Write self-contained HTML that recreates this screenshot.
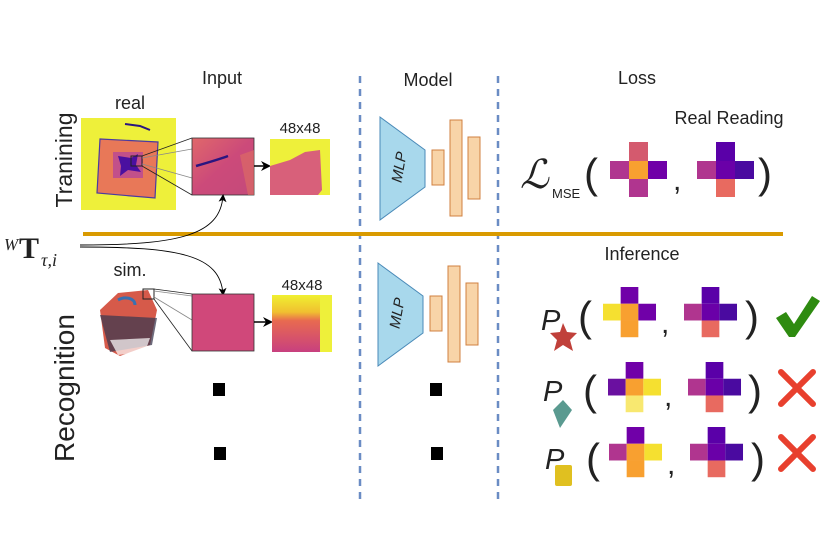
<!DOCTYPE html>
<html><head><meta charset="utf-8"><style>
html,body{margin:0;padding:0;background:#fff;}
svg{display:block;}
</style></head><body>
<svg width="831" height="559" viewBox="0 0 831 559" xmlns="http://www.w3.org/2000/svg" font-family="Liberation Sans, DejaVu Sans, sans-serif" fill="#222">
<defs>
<linearGradient id="g1" x1="0" y1="0" x2="1" y2="1"><stop offset="0" stop-color="#e0686a"/><stop offset="0.5" stop-color="#cc4a7a"/><stop offset="1" stop-color="#c44a7a"/></linearGradient>
<linearGradient id="g3" x1="0" y1="0" x2="0" y2="1"><stop offset="0" stop-color="#f0f030"/><stop offset="0.3" stop-color="#f0c030"/><stop offset="0.45" stop-color="#e86a50"/><stop offset="1" stop-color="#c8407f"/></linearGradient>
<marker id="ah" markerWidth="10" markerHeight="10" refX="8" refY="5" orient="auto" markerUnits="userSpaceOnUse"><path d="M0,0 L10,5 L0,10 L3,5 z" fill="#000"/></marker>
<marker id="ah2" markerWidth="8" markerHeight="8" refX="6" refY="4" orient="auto" markerUnits="userSpaceOnUse"><path d="M0,0 L8,4 L0,8 L2,4 z" fill="#000"/></marker>
</defs>

<text x="222" y="84" font-size="18" text-anchor="middle">Input</text>
<text x="428" y="86" font-size="18" text-anchor="middle">Model</text>
<text x="637" y="84" font-size="18" text-anchor="middle">Loss</text>

<line x1="360" y1="76" x2="360" y2="505" stroke="#6a8cc4" stroke-width="2.5" stroke-dasharray="7,6"/>
<line x1="498" y1="76" x2="498" y2="505" stroke="#6a8cc4" stroke-width="2.5" stroke-dasharray="7,6"/>

<line x1="83" y1="234" x2="783" y2="234" stroke="#d99a00" stroke-width="4"/>

<text transform="translate(72,160) rotate(-90)" font-size="23" text-anchor="middle">Tranining</text>
<text transform="translate(74,388) rotate(-90)" font-size="28" text-anchor="middle">Recognition</text>

<text x="130" y="109" font-size="18" text-anchor="middle">real</text>
<rect x="81" y="118" width="95" height="92" fill="#eef03a"/>
<path d="M100,139 L158,142 L155,198 L97,193 z" fill="#e87858" stroke="#4a3aa0" stroke-width="1.2"/>
<rect x="113" y="152" width="30" height="26" fill="#c2508a"/>
<path d="M118,156 L131,158 L138,154 L136,165 L141,172 L128,170 L120,176 L121,166 z" fill="#4a10a0"/>
<path d="M125,124 L140,126 L150,130" stroke="#2a1580" stroke-width="2" fill="none"/>
<rect x="131" y="156" width="11" height="10" fill="none" stroke="#222" stroke-width="1"/>
<line x1="142" y1="156" x2="192" y2="138" stroke="#222" stroke-width="0.8"/>
<line x1="142" y1="158" x2="192" y2="149" stroke="#888" stroke-width="0.8"/>
<line x1="142" y1="166" x2="192" y2="195" stroke="#222" stroke-width="0.8"/>
<line x1="142" y1="164" x2="192" y2="178" stroke="#888" stroke-width="0.8"/>
<rect x="192" y="138" width="62" height="57" fill="url(#g1)" stroke="#333" stroke-width="0.8"/>
<path d="M196,166 C210,162 220,159 228,156" stroke="#2a1580" stroke-width="2.5" fill="none"/>
<path d="M254,138 L254,150 L240,155 L248,195 L254,195 z" fill="#e07060" opacity="0.6"/>
<line x1="254" y1="166" x2="269" y2="166" stroke="#000" stroke-width="1.5" marker-end="url(#ah)"/>
<text x="300" y="133" font-size="15" text-anchor="middle">48x48</text>
<rect x="270" y="139" width="60" height="56" fill="#eef03a"/>
<path d="M270,166 L290,160 L305,152 L320,150 L322,190 L318,195 L270,195 z" fill="#d8607a"/>

<text x="4" y="250" style="font-family:'Liberation Serif',serif;font-size:17px;font-style:italic">W</text>
<text x="19" y="258" style="font-family:'Liberation Serif',serif;font-size:30px;font-weight:bold">T</text>
<text x="41" y="266" style="font-family:'Liberation Serif',serif;font-size:18px;font-style:italic">τ,i</text>
<path d="M80,245 C180,245 220,235 223,196" stroke="#000" stroke-width="0.9" fill="none" marker-end="url(#ah2)"/>
<path d="M80,247 C180,247 220,255 223,294" stroke="#000" stroke-width="0.9" fill="none" marker-end="url(#ah2)"/>

<text x="130" y="276" font-size="18" text-anchor="middle">sim.</text>
<path d="M100,310 L118,293 L148,290 L157,310 L150,345 L120,356 L105,348 z" fill="#d65a4a"/>
<path d="M100,315 L157,318 L152,345 L110,352 z" fill="#3e3a50" opacity="0.75"/>
<path d="M110,340 L150,338 L145,352 L118,355 z" fill="#fff" opacity="0.7"/>
<path d="M118,300 C125,296 135,298 135,305" stroke="#3a70b0" stroke-width="3" fill="none"/>
<rect x="143" y="289" width="11" height="10" fill="none" stroke="#222" stroke-width="1"/>
<line x1="154" y1="289" x2="192" y2="294" stroke="#222" stroke-width="0.8"/>
<line x1="154" y1="291" x2="192" y2="296" stroke="#888" stroke-width="0.8"/>
<line x1="154" y1="299" x2="192" y2="351" stroke="#222" stroke-width="0.8"/>
<line x1="154" y1="297" x2="192" y2="320" stroke="#888" stroke-width="0.8"/>
<rect x="192" y="294" width="62" height="57" fill="#d0487a" stroke="#333" stroke-width="0.8"/>
<line x1="254" y1="322" x2="271" y2="322" stroke="#000" stroke-width="1.5" marker-end="url(#ah)"/>
<text x="302" y="290" font-size="15" text-anchor="middle">48x48</text>
<rect x="272" y="295" width="60" height="57" fill="url(#g3)"/>
<rect x="320" y="295" width="12" height="57" fill="#eef03a"/>

<rect x="213" y="383" width="12" height="13" fill="#000"/>
<rect x="214" y="447" width="12" height="13" fill="#000"/>
<rect x="430" y="383" width="12" height="13" fill="#000"/>
<rect x="431" y="447" width="12" height="13" fill="#000"/>

<g>
<path d="M380,117 L425,150 L425,187 L380,220 z" fill="#a8d8ec" stroke="#4a8ab8" stroke-width="1"/>
<text transform="translate(404,168) rotate(-80)" font-size="15" font-style="italic" text-anchor="middle">MLP</text>
<rect x="432" y="150" width="12" height="35" fill="#f8d4a8" stroke="#d08040" stroke-width="1"/>
<rect x="450" y="120" width="12" height="96" fill="#f8d4a8" stroke="#d08040" stroke-width="1"/>
<rect x="468" y="137" width="12" height="62" fill="#f8d4a8" stroke="#d08040" stroke-width="1"/>
</g>
<g transform="translate(-2,146)">
<path d="M380,117 L425,150 L425,187 L380,220 z" fill="#a8d8ec" stroke="#4a8ab8" stroke-width="1"/>
<text transform="translate(404,168) rotate(-80)" font-size="15" font-style="italic" text-anchor="middle">MLP</text>
<rect x="432" y="150" width="12" height="35" fill="#f8d4a8" stroke="#d08040" stroke-width="1"/>
<rect x="450" y="120" width="12" height="96" fill="#f8d4a8" stroke="#d08040" stroke-width="1"/>
<rect x="468" y="137" width="12" height="62" fill="#f8d4a8" stroke="#d08040" stroke-width="1"/>
</g>

<text x="729" y="124" font-size="18" text-anchor="middle">Real Reading</text>
<text x="520" y="188" style="font-family:'DejaVu Serif',serif;font-size:40px;font-style:italic">ℒ</text>
<text x="552" y="198" font-size="13">MSE</text>
<text x="584" y="188" font-size="42">(</text>
<text x="673" y="190" font-size="30">,</text>
<text x="758" y="188" font-size="42">)</text>
<g transform="translate(610,142)">
<rect x="19" y="0" width="19" height="19" fill="#d45a6e"/>
<rect x="0" y="19" width="19" height="18" fill="#b0358f"/>
<rect x="19" y="19" width="19" height="18" fill="#f8a030"/>
<rect x="38" y="19" width="19" height="18" fill="#7000a8"/>
<rect x="19" y="37" width="19" height="18" fill="#b0358f"/>
</g>
<g transform="translate(697,142)">
<rect x="19" y="0" width="19" height="19" fill="#5a00a8"/>
<rect x="0" y="19" width="19" height="18" fill="#b0358f"/>
<rect x="19" y="19" width="19" height="18" fill="#6a00a8"/>
<rect x="38" y="19" width="19" height="18" fill="#4a0aa0"/>
<rect x="19" y="37" width="19" height="18" fill="#e86a60"/>
</g>

<text x="642" y="260" font-size="18" text-anchor="middle">Inference</text>

<text x="541" y="330" font-size="29" font-style="italic">P</text>
<path d="M563,323 L567,332 L577,333 L570,340 L573,351 L563,345 L554,351 L557,340 L550,333 L560,332 z" fill="#c0403a"/>
<text x="578" y="331" font-size="42">(</text>
<text x="661" y="333" font-size="30">,</text>
<text x="745" y="331" font-size="42">)</text>

<text x="543" y="401" font-size="29" font-style="italic">P</text>
<path d="M553,410 L563,400 L572,410 L560,428 z" fill="#5a9a90"/>
<text x="583" y="405" font-size="42">(</text>
<text x="664" y="406" font-size="30">,</text>
<text x="748" y="405" font-size="42">)</text>

<text x="545" y="469" font-size="29" font-style="italic">P</text>
<rect x="555" y="465" width="17" height="21" rx="2" fill="#e0c020"/>
<text x="586" y="473" font-size="42">(</text>
<text x="667" y="474" font-size="30">,</text>
<text x="751" y="473" font-size="42">)</text>

<g transform="translate(603,287) scale(0.93)">
<rect x="19" y="0" width="19" height="18" fill="#7000a8"/>
<rect x="0" y="18" width="19" height="18" fill="#f5e030"/>
<rect x="19" y="18" width="19" height="18" fill="#f8a030"/>
<rect x="38" y="18" width="19" height="18" fill="#7000a8"/>
<rect x="19" y="36" width="19" height="18" fill="#f8a030"/>
</g>
<g transform="translate(684,287) scale(0.93)">
<rect x="19" y="0" width="19" height="18" fill="#5a00a8"/>
<rect x="0" y="18" width="19" height="18" fill="#b0358f"/>
<rect x="19" y="18" width="19" height="18" fill="#6a00a8"/>
<rect x="38" y="18" width="19" height="18" fill="#4a0aa0"/>
<rect x="19" y="36" width="19" height="18" fill="#e86a60"/>
</g>
<g transform="translate(608,362) scale(0.93)">
<rect x="19" y="0" width="19" height="18" fill="#7000a8"/>
<rect x="0" y="18" width="19" height="18" fill="#6a10a0"/>
<rect x="19" y="18" width="19" height="18" fill="#f8a030"/>
<rect x="38" y="18" width="19" height="18" fill="#f5e030"/>
<rect x="19" y="36" width="19" height="18" fill="#f8e870"/>
</g>
<g transform="translate(688,362) scale(0.93)">
<rect x="19" y="0" width="19" height="18" fill="#5a00a8"/>
<rect x="0" y="18" width="19" height="18" fill="#b0358f"/>
<rect x="19" y="18" width="19" height="18" fill="#6a00a8"/>
<rect x="38" y="18" width="19" height="18" fill="#4a0aa0"/>
<rect x="19" y="36" width="19" height="18" fill="#e86a60"/>
</g>
<g transform="translate(609,427) scale(0.93)">
<rect x="19" y="0" width="19" height="18" fill="#7000a8"/>
<rect x="0" y="18" width="19" height="18" fill="#b0358f"/>
<rect x="19" y="18" width="19" height="18" fill="#f8a030"/>
<rect x="38" y="18" width="19" height="18" fill="#f5e030"/>
<rect x="19" y="36" width="19" height="18" fill="#f8a030"/>
</g>
<g transform="translate(690,427) scale(0.93)">
<rect x="19" y="0" width="19" height="18" fill="#5a00a8"/>
<rect x="0" y="18" width="19" height="18" fill="#b0358f"/>
<rect x="19" y="18" width="19" height="18" fill="#6a00a8"/>
<rect x="38" y="18" width="19" height="18" fill="#4a0aa0"/>
<rect x="19" y="36" width="19" height="18" fill="#e86a60"/>
</g>

<path d="M776,318 L786,312 L794,324 L812,296 L820,301 L795,337 L789,337 z" fill="#2e8b10"/>
<g stroke="#e8402e" stroke-width="6" stroke-linecap="round">
<line x1="781" y1="372" x2="813" y2="404"/><line x1="813" y1="372" x2="781" y2="404"/>
<line x1="781" y1="437" x2="813" y2="469"/><line x1="813" y1="437" x2="781" y2="469"/>
</g>
</svg>
</body></html>
